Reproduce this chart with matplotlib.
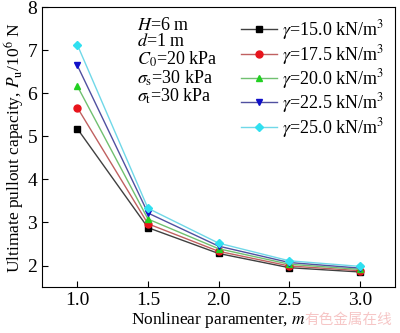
import matplotlib
matplotlib.use("Agg")
import matplotlib.pyplot as plt

plt.rcParams['font.family'] = ['Liberation Serif', 'Noto Sans CJK SC']
plt.rcParams['mathtext.fontset'] = 'stix'
plt.rcParams['font.size'] = 11

m = [1.0, 1.5, 2.0, 2.5, 3.0]
gamma_labels = ['15.0', '17.5', '20.0', '22.5', '25.0']
Pu = [
    [5.18, 2.88, 2.28, 1.95, 1.85],
    [5.67, 2.97, 2.33, 1.99, 1.88],
    [6.17, 3.08, 2.39, 2.03, 1.91],
    [6.65, 3.22, 2.45, 2.07, 1.94],
    [7.13, 3.33, 2.52, 2.11, 1.98],
]
colors = ['black', '#e8141c', '#22d022', '#1010c8', '#30e0f0']
line_colors = ['#404040', '#c06060', '#70c070', '#5050a0', '#70d8e8']
markers = ['s', 'o', '^', 'v', 'D']

fig = plt.figure(figsize=(4.0, 3.33), dpi=100)
ax = fig.add_axes([0.105, 0.138, 0.883, 0.84])

for i in range(len(Pu)):
    ax.plot(m, Pu[i], color=line_colors[i], lw=1.0, marker=markers[i],
            markersize=5 if markers[i] != 'D' else 4.5,
            markerfacecolor=colors[i], markeredgecolor=colors[i],
            label=r'$\gamma$=' + gamma_labels[i] + r' kN/m$^3$')

ax.set_xlim(0.75, 3.25)
ax.set_ylim(1.5, 8)
ax.set_xticks([1.0, 1.5, 2.0, 2.5, 3.0])
ax.set_xticklabels(['1.0', '1.5', '2.0', '2.5', '3.0'])
ax.set_yticks([2, 3, 4, 5, 6, 7, 8])
ax.tick_params(direction='in', labelsize=14, length=4, top=False, right=False)
ax.set_xlabel(r'Nonlinear paramenter, $m$', fontsize=12.5, labelpad=1)
ax.set_ylabel(r'Ultimate pullout capacity, $P_\mathrm{u}$/10$^6$ N', fontsize=12.5, labelpad=1)

params = (r'$H$=6 m' + '\n' + r'$d$=1 m' + '\n' + r'$C_0$=20 kPa' + '\n'
          + r'$\sigma_\mathrm{s}$=30 kPa' + '\n' + r'$\sigma_\mathrm{t}$=30 kPa')
ax.text(0.27, 0.965, params, transform=ax.transAxes, fontsize=13,
        va='top', ha='left', linespacing=0.95)

ax.legend(loc='upper right', frameon=False, fontsize=13, handlelength=2.0,
          handletextpad=0.3, labelspacing=0.02, borderaxespad=0.2,
          bbox_to_anchor=(1.0, 1.0))

fig.text(0.872, 0.04, '有色金属在线', color='#f4b8b8', fontsize=10.5,
         family=['Noto Sans CJK SC'], ha='center', va='center', alpha=0.8)

fig.savefig('out.png', dpi=100)
